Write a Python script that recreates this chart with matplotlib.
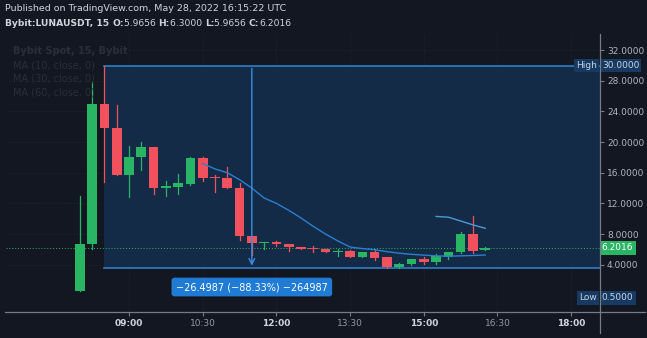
import matplotlib.pyplot as plt
from matplotlib.patches import Rectangle
from matplotlib.lines import Line2D

# candle data (15 min candles)
times = ["08:00", "08:15", "08:30", "08:45", "09:00", "09:15", "09:30", "09:45",
         "10:00", "10:15", "10:30", "10:45", "11:00", "11:15", "11:30", "11:45",
         "12:00", "12:15", "12:30", "12:45", "13:00", "13:15", "13:30", "13:45",
         "14:00", "14:15", "14:30", "14:45", "15:00", "15:15", "15:30", "15:45",
         "16:00", "16:15"]
opens = [0.5, 6.7, 25.0, 21.9, 15.7, 18.0, 19.3, 14.05, 14.2, 14.5, 17.9, 15.4,
         15.3, 14.05, 7.74, 6.87, 6.95, 6.7, 6.3, 6.1, 6.08, 5.65, 5.8, 5.04,
         5.65, 4.96, 3.73, 4.05, 4.7, 4.3, 5.04, 5.6, 7.96, 5.9656]
highs = [13.0, 27.8, 30.0, 24.8, 19.5, 20.0, 19.4, 14.9, 15.8, 18.0, 18.0, 15.7,
         16.7, 14.7, 7.8, 7.0, 7.1, 6.75, 6.35, 6.4, 6.1, 6.0, 5.85, 5.65,
         6.0, 5.0, 4.2, 4.75, 5.0, 5.4, 5.65, 8.3, 10.3, 6.3]
lows = [0.5, 6.0, 14.8, 15.7, 12.8, 16.4, 13.2, 13.0, 13.2, 14.4, 14.9, 13.5,
        14.0, 7.2, 5.3, 6.0, 6.5, 5.8, 6.0, 5.65, 5.6, 5.1, 5.0, 5.0,
        4.6, 3.5, 3.5, 3.9, 4.1, 4.1, 4.7, 5.5, 5.5, 5.9656]
closes = [6.7, 25.0, 21.9, 15.7, 18.0, 19.3, 14.05, 14.3, 14.6, 17.9, 15.3, 15.3,
          14.05, 7.74, 6.87, 6.96, 6.75, 6.27, 6.1, 6.05, 5.65, 5.8, 5.04, 5.6,
          4.87, 3.66, 4.09, 4.7, 4.3, 5.13, 5.6, 8.0, 5.82, 6.2016]

ma10_times = times[10:]
ma10 = [17.2, 16.5, 16.0, 15.1, 14.0, 12.7, 12.0, 11.1, 10.1, 9.0, 8.0, 7.1,
        6.3, 6.1, 5.95, 5.7, 5.5, 5.35, 5.25, 5.15, 5.1, 5.15, 5.2, 5.26]
ma30_times = times[29:]
ma30 = [10.3, 10.2, 9.7, 9.2, 8.75]

tick_labels = ["09:00", "10:30", "12:00", "13:30", "15:00", "16:30", "18:00"]
price_ticks = [4, 8, 12, 16, 20, 24, 28, 32]

box_high = 30.0
box_low = 3.5013
last_price = 6.2016


def to_hours(t):
    h, m = t.split(":")
    return int(h) + int(m) / 60.0


BG = '#131722'
GREEN = '#2ab564'
RED = '#f0515c'
TXT = '#b2b5be'

fig = plt.figure(figsize=(6.47, 3.38), dpi=100, facecolor=BG)
ax = fig.add_axes([6 / 647, 26 / 338, 594 / 647, 277.5 / 338])
ax.set_facecolor(BG)
ax.set_xlim(6.496, 18.587)
ax.set_ylim(-2.18, 34.05)

for s in ax.spines.values():
    s.set_visible(False)

# grid
for v in tick_labels:
    ax.axvline(to_hours(v), color='#232834', lw=0.6, ls=(0, (1, 2)), zorder=0)
for p in price_ticks:
    ax.axhline(p, color='#232834', lw=0.6, ls=(0, (1, 2)), zorder=0)

# measure box
ax.add_patch(Rectangle((to_hours("08:30"), box_low), 12, box_high - box_low,
                       facecolor='#142b47', edgecolor='none', zorder=1))
ax.plot([to_hours("08:30"), 19], [box_high, box_high], color='#2f7dc8', lw=1.2, zorder=2)
ax.plot([to_hours("08:30"), 19], [box_low, box_low], color='#2f7dc8', lw=1.2, zorder=2)

# candles
w = 0.197
for t, o, h, l, c in zip(times, opens, highs, lows, closes):
    x = to_hours(t)
    col = GREEN if c >= o else RED
    ax.plot([x, x], [l, h], color=col, lw=0.9, zorder=3)
    bot = min(o, c)
    hgt = max(abs(c - o), 0.12)
    ax.add_patch(Rectangle((x - w / 2, bot), w, hgt, facecolor=col, edgecolor='none', zorder=4))

# moving averages
ax.plot([to_hours(t) for t in ma10_times], ma10, color='#2b7fd0', lw=1.0, zorder=5)
ax.plot([to_hours(t) for t in ma30_times], ma30, color='#4a9ad6', lw=1.0, zorder=5)

# last price line
ax.axhline(last_price, color=GREEN, lw=0.7, ls=(0, (1, 2)), zorder=2)

# measure arrow and label
ax.annotate('', xy=(to_hours("11:30"), box_low), xytext=(to_hours("11:30"), box_high),
            arrowprops=dict(arrowstyle='->', color='#3a8ee0', lw=1.0), zorder=6)
ax.text(to_hours("11:30"), 1.08, "\u221226.4987 (\u221288.33%) \u2212264987",
        ha='center', va='center', color='white', fontsize=7, zorder=7,
        bbox=dict(boxstyle='round,pad=0.45,rounding_size=0.3', fc='#1f7bd4', ec='none'))

# axes ticks
ax.set_xticks([to_hours(t) for t in tick_labels])
ax.set_xticklabels(tick_labels)
ax.tick_params(axis='x', length=3, color='#787b86', labelsize=6.5, pad=2)
for lab in ax.get_xticklabels():
    if lab.get_text().endswith(":00"):
        lab.set_color('#d1d4dc')
        lab.set_fontweight('bold')
    else:
        lab.set_color('#9598a1')

ax.yaxis.tick_right()
ax.set_yticks(price_ticks)
ax.set_yticklabels(["%.4f" % p for p in price_ticks])
ax.tick_params(axis='y', length=3, color='#787b86', labelsize=6.5, labelcolor=TXT, pad=2)

# price axis labels
ytr = ax.get_yaxis_transform()
ax.text(1.003, box_high, "30.0000", transform=ytr, ha='left', va='center', fontsize=6.5,
        color='#c9d3e3', clip_on=False, zorder=8,
        bbox=dict(boxstyle='square,pad=0.25', fc='#173a62', ec='none'))
ax.text(0.995, box_high, "High", transform=ytr, ha='right', va='center', fontsize=6.5,
        color='#c9d3e3', clip_on=False, zorder=8,
        bbox=dict(boxstyle='square,pad=0.25', fc='#173a62', ec='none'))
ax.text(1.003, -0.35, "0.5000", transform=ytr, ha='left', va='center', fontsize=6.5,
        color='#c9d3e3', clip_on=False, zorder=8,
        bbox=dict(boxstyle='square,pad=0.25', fc='#173a62', ec='none'))
ax.text(0.995, -0.35, "Low", transform=ytr, ha='right', va='center', fontsize=6.5,
        color='#c9d3e3', clip_on=False, zorder=8,
        bbox=dict(boxstyle='square,pad=0.25', fc='#173a62', ec='none'))
ax.text(1.003, last_price, "6.2016", transform=ytr, ha='left', va='center', fontsize=6.5,
        color='white', clip_on=False, zorder=8,
        bbox=dict(boxstyle='square,pad=0.25', fc=GREEN, ec='none'))

# legend text (very dim)
ax.text(0.012, 0.94, "Bybit Spot, 15, Bybit", transform=ax.transAxes, fontsize=7,
        fontweight='bold', color='#2a2e39', va='center')
for i, n in enumerate([10, 30, 60]):
    ax.text(0.012, 0.89 - i * 0.05, "MA (%d, close, 0)" % n, transform=ax.transAxes,
            fontsize=7, color='#2a2e39', va='center')

# frame lines
fig.add_artist(Line2D([5 / 647, 645 / 647], [26 / 338, 26 / 338], color='#787b86', lw=0.9))
fig.add_artist(Line2D([600 / 647, 600 / 647], [5 / 338, 304 / 338], color='#787b86', lw=0.9))

# header
fig.text(5 / 647, 1 - 8.5 / 338, "Published on TradingView.com, May 28, 2022 16:15:22 UTC",
         color='#d1d4dc', fontsize=6.8, va='center')
parts = [("Bybit:LUNAUSDT, 15 ", 'bold'), ("O:", 'bold'), ("5.9656 ", 'normal'),
         ("H:", 'bold'), ("6.3000 ", 'normal'), ("L:", 'bold'), ("5.9656 ", 'normal'),
         ("C:", 'bold'), ("6.2016", 'normal')]
fig.canvas.draw()
r = fig.canvas.get_renderer()
xpos = 5
for txt, wt in parts:
    t = fig.text(xpos / 647, 1 - 23.5 / 338, txt, color='#d1d4dc', fontsize=6.6,
                 fontweight=wt, va='center')
    xpos += t.get_window_extent(renderer=r).width

fig.savefig('out.png', dpi=100, facecolor=BG)
